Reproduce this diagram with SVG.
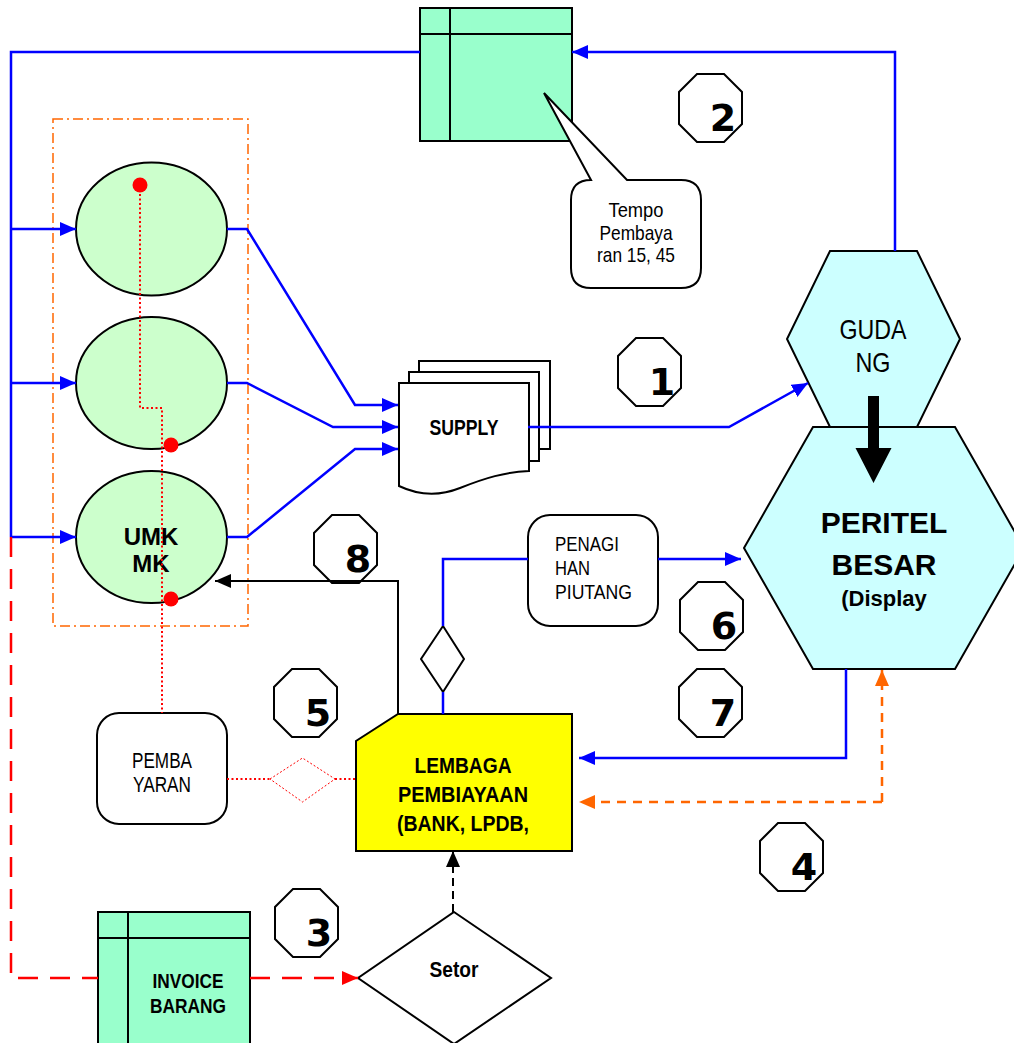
<svg xmlns="http://www.w3.org/2000/svg" xmlns:xlink="http://www.w3.org/1999/xlink" width="1014" height="1043" viewBox="0 0 1014 1043">
<style>
.sh{stroke:#000;stroke-width:2}
.blue{fill:none;stroke:#0000FF;stroke-width:2.5}
.blk{fill:none;stroke:#000;stroke-width:2}
.red{fill:none;stroke:#FF0000;stroke-width:2.5;stroke-dasharray:20 12}
.org{fill:none;stroke:#FF6600;stroke-width:2.5;stroke-dasharray:9 7}
.dot{fill:none;stroke:#FF0000;stroke-width:2;stroke-dasharray:2 2.5}
.n{font-family:"Liberation Sans",Arial,sans-serif}
.w{font-family:"Liberation Sans",Arial,sans-serif}
.b{font-weight:bold}
.c{text-anchor:middle}
.num{font-family:"DejaVu Sans",sans-serif;font-weight:bold;font-size:38px;text-anchor:middle}
</style>
<defs>
<marker id="ab" viewBox="0 0 16 14" refX="16" refY="7" markerWidth="16" markerHeight="14" markerUnits="userSpaceOnUse" orient="auto"><path d="M0,0L16,7L0,14z" fill="#0000FF"/></marker>
<marker id="ak" viewBox="0 0 16 14" refX="16" refY="7" markerWidth="16" markerHeight="14" markerUnits="userSpaceOnUse" orient="auto"><path d="M0,0L16,7L0,14z" fill="#000"/></marker>
<marker id="ar" viewBox="0 0 16 14" refX="16" refY="7" markerWidth="16" markerHeight="14" markerUnits="userSpaceOnUse" orient="auto"><path d="M0,0L16,7L0,14z" fill="#FF0000"/></marker>
<marker id="ao" viewBox="0 0 16 14" refX="16" refY="7" markerWidth="16" markerHeight="14" markerUnits="userSpaceOnUse" orient="auto"><path d="M0,0L16,7L0,14z" fill="#FF6600"/></marker>
<polygon id="oct" points="18,0 45,0 63,18 63,50 45,68 18,68 0,50 0,18" fill="#fff" stroke="#000" stroke-width="2"/>
</defs>
<rect width="1014" height="1043" fill="#fff"/>

<g id="frame">
<rect x="53" y="119" width="195" height="507" fill="none" stroke="#FF6600" stroke-width="1.5" stroke-dasharray="10 4 2 4"/>
</g>

<g id="datastore-top">
<rect x="420" y="8" width="152" height="133" fill="#99FFCC" class="sh"/>
<line x1="420" y1="34" x2="572" y2="34" class="sh"/>
<line x1="450" y1="8" x2="450" y2="141" class="sh"/>
</g>

<g id="callout">
<path d="M591,180 L544,93 L627,180 H681 Q701,180 701,200 V268 Q701,288 681,288 H591 Q571,288 571,268 V200 Q571,180 591,180 Z" fill="#fff" class="sh"/>
<text class="n c" font-size="21" x="636" y="217" textLength="55" lengthAdjust="spacingAndGlyphs">Tempo</text>
<text class="n c" font-size="21" x="636" y="239.5" textLength="73" lengthAdjust="spacingAndGlyphs">Pembaya</text>
<text class="n c" font-size="21" x="636" y="262" textLength="78" lengthAdjust="spacingAndGlyphs">ran 15, 45</text>
</g>

<g id="umk1"><ellipse cx="151.5" cy="229" rx="75.5" ry="66.5" fill="#CCFFCC" class="sh"/></g>
<g id="umk2"><ellipse cx="151.5" cy="383" rx="75.5" ry="66" fill="#CCFFCC" class="sh"/></g>
<g id="umk3"><ellipse cx="151.5" cy="537" rx="75.5" ry="66" fill="#CCFFCC" class="sh"/>
<text class="w b c" font-size="24" x="151" y="545">UMK</text>
<text class="w b c" font-size="24" x="151" y="572">MK</text>
</g>

<g id="supply">
<rect x="419" y="361" width="131" height="88" fill="#fff" class="sh"/>
<rect x="409" y="372" width="130" height="89" fill="#fff" class="sh"/>
<path d="M399,383 H529 V471 C505,472 485,478 460,488 C440,496 420,496 399,486 Z" fill="#fff" class="sh"/>
<text class="n b c" font-size="22" x="464" y="435" textLength="69" lengthAdjust="spacingAndGlyphs">SUPPLY</text>
</g>

<g id="gudang">
<polygon points="830,251 917,251 960,339 917,427 830,427 787,339" fill="#CCFFFF" class="sh"/>
<text class="n c" font-size="28" x="873" y="339" textLength="67" lengthAdjust="spacingAndGlyphs">GUDA</text>
<text class="n c" font-size="28" x="873" y="372" textLength="35" lengthAdjust="spacingAndGlyphs">NG</text>
</g>

<g id="peritel">
<polygon points="813,427 955,427 1024,548 955,669 813,669 744,548" fill="#CCFFFF" class="sh"/>
<polygon points="868,396 879,396 879,448 891.5,448 873.5,483 855.5,448 868,448" fill="#000"/>
<text class="w b c" font-size="30" x="884" y="533">PERITEL</text>
<text class="w b c" font-size="30" x="884" y="575">BESAR</text>
<text class="w b c" font-size="22" x="884" y="606">(Display</text>
</g>

<g id="penagihan">
<rect x="528" y="515" width="130" height="111" rx="22" fill="#fff" class="sh"/>
<text class="n" font-size="20.5" x="555" y="551" textLength="64" lengthAdjust="spacingAndGlyphs">PENAGI</text>
<text class="n" font-size="20.5" x="555" y="575" textLength="35" lengthAdjust="spacingAndGlyphs">HAN</text>
<text class="n" font-size="20.5" x="555" y="599" textLength="77" lengthAdjust="spacingAndGlyphs">PIUTANG</text>
</g>

<g id="decision-small">
<polygon points="443,626 464,659 443,692 421,659" fill="#fff" class="sh"/>
</g>

<g id="pembayaran">
<rect x="97" y="713" width="130" height="111" rx="22" fill="#fff" class="sh"/>
<text class="n c" font-size="22" x="162" y="768" textLength="60" lengthAdjust="spacingAndGlyphs">PEMBA</text>
<text class="n c" font-size="22" x="162" y="792" textLength="58" lengthAdjust="spacingAndGlyphs">YARAN</text>
</g>

<g id="decision-dotted">
<polygon points="270,779 302.5,758 335,779 302.5,802" fill="#fff" stroke="#FF0000" stroke-width="1" stroke-dasharray="2 2"/>
</g>

<g id="lembaga">
<polygon points="398,714 572,714 572,851 356,851 356,741" fill="#FFFF00" class="sh"/>
<text class="n b c" font-size="22.5" x="463" y="773" textLength="97" lengthAdjust="spacingAndGlyphs">LEMBAGA</text>
<text class="n b c" font-size="22.5" x="463" y="802" textLength="130" lengthAdjust="spacingAndGlyphs">PEMBIAYAAN</text>
<text class="n b c" font-size="22.5" x="463" y="831" textLength="132" lengthAdjust="spacingAndGlyphs">(BANK, LPDB,</text>
</g>

<g id="invoice">
<rect x="98" y="912" width="152" height="140" fill="#99FFCC" class="sh"/>
<line x1="98" y1="938" x2="250" y2="938" class="sh"/>
<line x1="128" y1="912" x2="128" y2="1052" class="sh"/>
<text class="n b c" font-size="20" x="188" y="988" textLength="71" lengthAdjust="spacingAndGlyphs">INVOICE</text>
<text class="n b c" font-size="20" x="188" y="1013" textLength="76" lengthAdjust="spacingAndGlyphs">BARANG</text>
</g>

<g id="setor">
<polygon points="454,912 551,978 454,1044 358,978" fill="#fff" class="sh"/>
<text class="n b c" font-size="22" x="454" y="977" textLength="49" lengthAdjust="spacingAndGlyphs">Setor</text>
</g>

<g id="octagons">
<use href="#oct" x="618" y="338"/><text class="num" x="662" y="395">1</text>
<use href="#oct" x="679" y="74"/><text class="num" x="723" y="131">2</text>
<use href="#oct" x="275" y="889"/><text class="num" x="319" y="946">3</text>
<use href="#oct" x="760" y="823"/><text class="num" x="804" y="880">4</text>
<use href="#oct" x="274" y="669"/><text class="num" x="318" y="726">5</text>
<use href="#oct" x="680" y="582"/><text class="num" x="724" y="639">6</text>
<use href="#oct" x="679" y="669"/><text class="num" x="723" y="726">7</text>
<use href="#oct" x="314" y="515"/><text class="num" x="358" y="572">8</text>
</g>

<g id="connectors">
<path class="blue" d="M420,52 H11 V537"/>
<path class="blue" d="M11,229 H76" marker-end="url(#ab)"/>
<path class="blue" d="M11,383 H76" marker-end="url(#ab)"/>
<path class="blue" d="M11,537 H76" marker-end="url(#ab)"/>
<path class="blue" d="M227,229 H247 L355,405 H398" marker-end="url(#ab)"/>
<path class="blue" d="M227,383 H247 L333,427 H398" marker-end="url(#ab)"/>
<path class="blue" d="M227,537 H247 L355,449 H398" marker-end="url(#ab)"/>
<path class="blue" d="M528,427 H729 L808,383" marker-end="url(#ab)"/>
<path class="blue" d="M895,251 V52 H572" marker-end="url(#ab)"/>
<path class="blue" d="M443,714 V692"/>
<path class="blue" d="M443,626 V559 H528"/>
<path class="blue" d="M658,559 H741" marker-end="url(#ab)"/>
<path class="blue" d="M846,669 V758 H579" marker-end="url(#ab)"/>
<path class="org" d="M882,802 H579" marker-end="url(#ao)"/>
<path class="org" d="M882,802 V670" marker-end="url(#ao)"/>
<path class="blk" d="M398,714 V581 H215" marker-end="url(#ak)"/>
<path class="blk" stroke-dasharray="8 5" d="M453,912 V851" marker-end="url(#ak)"/>
<path class="red" d="M11,537 V978 H98"/>
<path class="red" d="M250,978 H358" marker-end="url(#ar)"/>
<path class="dot" d="M140,185 V408 H162 V713"/>
<path class="dot" d="M227,779 H270"/>
<path class="dot" d="M335,779 H356"/>
<circle cx="140" cy="185" r="7.5" fill="#FF0000"/>
<circle cx="171" cy="445" r="7.5" fill="#FF0000"/>
<circle cx="171" cy="599" r="7.5" fill="#FF0000"/>
</g>
</svg>
